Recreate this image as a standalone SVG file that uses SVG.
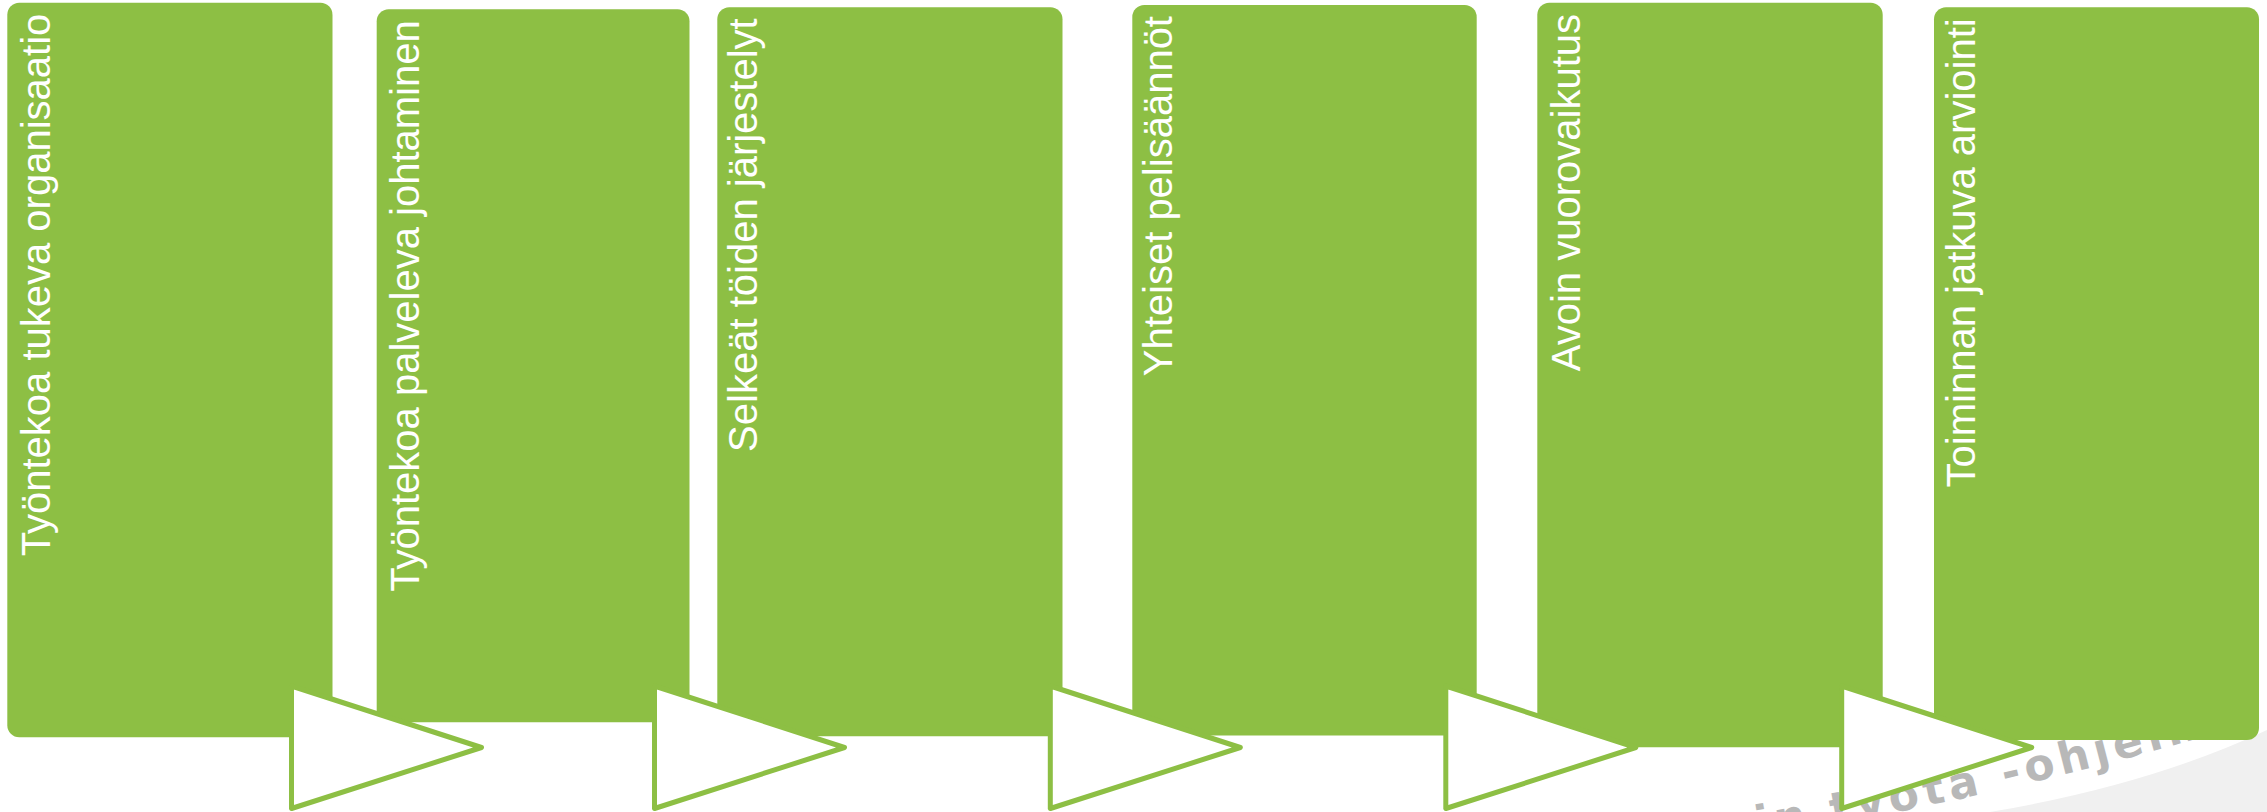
<svg xmlns="http://www.w3.org/2000/svg" width="2267" height="812" viewBox="0 0 2267 812">
  <defs>
    <style>
      .box { fill: #8DBF44; }
      .lbl { fill: #FFFFFF; font-family: "Liberation Sans", Arial, sans-serif; font-size: 40px; text-anchor: end; }
      .arr { fill: #FFFFFF; stroke: #8DBF44; stroke-width: 5; stroke-linejoin: round; }
      .wm { fill: #B8B8B8; font-family: "DejaVu Sans", Verdana, sans-serif; font-weight: bold; font-size: 44px; letter-spacing: 5px; }
    </style>
    <path id="wmPath" d="M 1690 848 Q 1980 806 2267 718"/>
  </defs>
  <rect width="2267" height="812" fill="#FFFFFF"/>
  <g id="background">
    <path d="M 1990 812 Q 2150 785 2267 730 L 2267 812 Z" fill="#F0F0F0"/>
    <text class="wm"><textPath href="#wmPath" startOffset="68">in työtä -ohjelma</textPath></text>
  </g>
  <g id="node1">
    <rect class="box" x="7.3" y="2.7" width="325.2" height="734.6" rx="12"/>
    <text class="lbl" transform="translate(50,13.7) rotate(-90)">Työntekoa tukeva organisaatio</text>
  </g>
  <g id="node2">
    <rect class="box" x="376.7" y="9.3" width="312.8" height="713" rx="12"/>
    <text class="lbl" transform="translate(419,20.3) rotate(-90)">Työntekoa palveleva johtaminen</text>
  </g>
  <g id="node3">
    <rect class="box" x="717.3" y="7.3" width="345.2" height="729" rx="12"/>
    <text class="lbl" transform="translate(757,18.3) rotate(-90)">Selkeät töiden järjestelyt</text>
  </g>
  <g id="node4">
    <rect class="box" x="1132.3" y="5" width="344.4" height="730.5" rx="12"/>
    <text class="lbl" transform="translate(1172,16) rotate(-90)">Yhteiset pelisäännöt</text>
  </g>
  <g id="node5">
    <rect class="box" x="1537.3" y="2.7" width="345.4" height="744.6" rx="12"/>
    <text class="lbl" transform="translate(1580,14) rotate(-90)">Avoin vuorovaikutus</text>
  </g>
  <g id="node6">
    <rect class="box" x="1934" y="7.3" width="325" height="732.7" rx="12"/>
    <text class="lbl" transform="translate(1975,18.3) rotate(-90)">Toiminnan jatkuva arviointi</text>
  </g>
  <g id="connectors">
    <polygon class="arr" points="291.5,686 481.5,747.5 291.5,808.5"/>
    <polygon class="arr" points="654.5,686 844.5,747.5 654.5,808.5"/>
    <polygon class="arr" points="1050.3,686 1240.3,747.5 1050.3,808.5"/>
    <polygon class="arr" points="1445.8,686 1635.8,747.5 1445.8,808.5"/>
    <polygon class="arr" points="1841.7,686 2031.7,747.5 1841.7,808.5"/>
  </g>
</svg>
